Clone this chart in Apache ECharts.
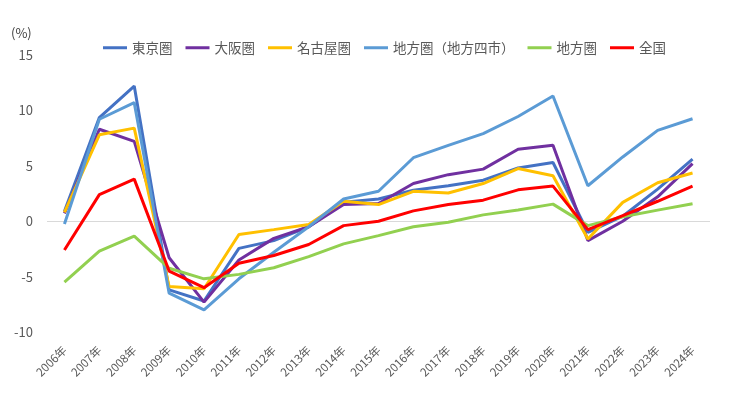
<!DOCTYPE html>
<html>
<head>
<meta charset="utf-8">
<script src="https://cdn.jsdelivr.net/npm/echarts@6/dist/echarts.min.js"></script>
<style>
  html, body { margin: 0; padding: 0; background: #fff; }
  #chart { width: 730px; height: 399px; }
</style>
</head>
<body>
<div id="chart"></div>
<script>
// 年次
const years = ['2006年', '2007年', '2008年', '2009年', '2010年', '2011年', '2012年', '2013年', '2014年', '2015年',
  '2016年', '2017年', '2018年', '2019年', '2020年', '2021年', '2022年', '2023年', '2024年'];

// 変動率 (%)
const tokyo = [0.9, 9.35, 12.2, -6.2, -7.2, -2.45, -1.75, -0.5, 1.7, 2.0, 2.8, 3.2, 3.7, 4.8, 5.3, -1.0, 0.45, 2.9, 5.6];
const osaka = [0.7, 8.3, 7.2, -3.3, -7.3, -3.5, -1.55, -0.5, 1.5, 1.6, 3.4, 4.2, 4.7, 6.5, 6.85, -1.75, 0.0, 2.2, 5.2];
const nagoya = [0.8, 7.8, 8.4, -5.9, -6.1, -1.2, -0.76, -0.3, 1.8, 1.5, 2.7, 2.55, 3.4, 4.75, 4.1, -1.6, 1.7, 3.47, 4.35];
const fourCities = [-0.25, 9.2, 10.7, -6.5, -8.0, -5.2, -2.8, -0.5, 2.0, 2.7, 5.73, 6.85, 7.9, 9.45, 11.3, 3.2, 5.8, 8.2, 9.25];
const regional = [-5.5, -2.7, -1.35, -4.25, -5.2, -4.8, -4.2, -3.2, -2.05, -1.3, -0.5, -0.1, 0.57, 1.02, 1.54, -0.4, 0.4, 1.0, 1.57];
const nationwide = [-2.6, 2.4, 3.8, -4.5, -6.0, -3.8, -3.1, -2.1, -0.4, 0.0, 0.93, 1.5, 1.9, 2.83, 3.17, -0.76, 0.5, 1.8, 3.17];

const yTicks = { min: -10, max: 15, interval: 5 };

const FONT = '"Noto Sans CJK JP", "Noto Sans", sans-serif';

const seriesDefs = [
  { name: '東京圏', data: tokyo, color: '#4472C4' },
  { name: '大阪圏', data: osaka, color: '#7030A0' },
  { name: '名古屋圏', data: nagoya, color: '#FFC000' },
  { name: '地方圏（地方四市）', data: fourCities, color: '#5B9BD5' },
  { name: '地方圏', data: regional, color: '#92D050' },
  { name: '全国', data: nationwide, color: '#FF0000' }
];

let myChart = echarts.init(document.getElementById('chart'), null, { renderer: 'canvas' });

let series = seriesDefs.map(function (s, i) {
  let item = {
    name: s.name,
    type: 'line',
    data: s.data,
    symbol: 'none',
    smooth: false,
    lineStyle: { width: 3, color: s.color },
    itemStyle: { color: s.color },
    emphasis: { disabled: true }
  };
  if (i === 0) {
    /* zero reference line */
    item.markLine = {
      silent: true,
      symbol: 'none',
      label: { show: false },
      lineStyle: { color: '#d9d9d9', width: 1, type: 'solid' },
      data: [{ yAxis: 0 }],
      z: 1
    };
  }
  return item;
});

let option = {
  backgroundColor: '#fff',
  animation: false,
  textStyle: { fontFamily: FONT },
  title: {
    text: '(%)',
    left: 11,
    top: 27,
    padding: 0,
    textStyle: { fontSize: 13, fontWeight: 'normal', color: '#404040', fontFamily: FONT }
  },
  legend: {
    left: 103,
    top: 41,
    padding: 0,
    itemWidth: 24,
    itemHeight: 3,
    itemGap: 13,
    icon: 'rect',
    textStyle: { fontSize: 13.5, color: '#595959', fontFamily: FONT },
    data: seriesDefs.map(function (s) { return s.name; })
  },
  grid: {
    left: 47,
    right: 20,
    top: 55,
    bottom: 67,
    containLabel: false
  },
  xAxis: {
    type: 'category',
    data: years,
    boundaryGap: true,
    axisLine: { show: false },
    axisTick: { show: false },
    axisLabel: {
      rotate: 45,
      fontSize: 11.5,
      color: '#595959',
      margin: 16,
      interval: 0,
      fontFamily: FONT
    }
  },
  yAxis: {
    type: 'value',
    min: yTicks.min,
    max: yTicks.max,
    interval: yTicks.interval,
    axisLine: { show: false },
    axisTick: { show: false },
    splitLine: { show: false },
    axisLabel: { fontSize: 13, color: '#595959', margin: 14, fontFamily: FONT }
  },
  series: series
};

myChart.setOption(option, true);
</script>
</body>
</html>
